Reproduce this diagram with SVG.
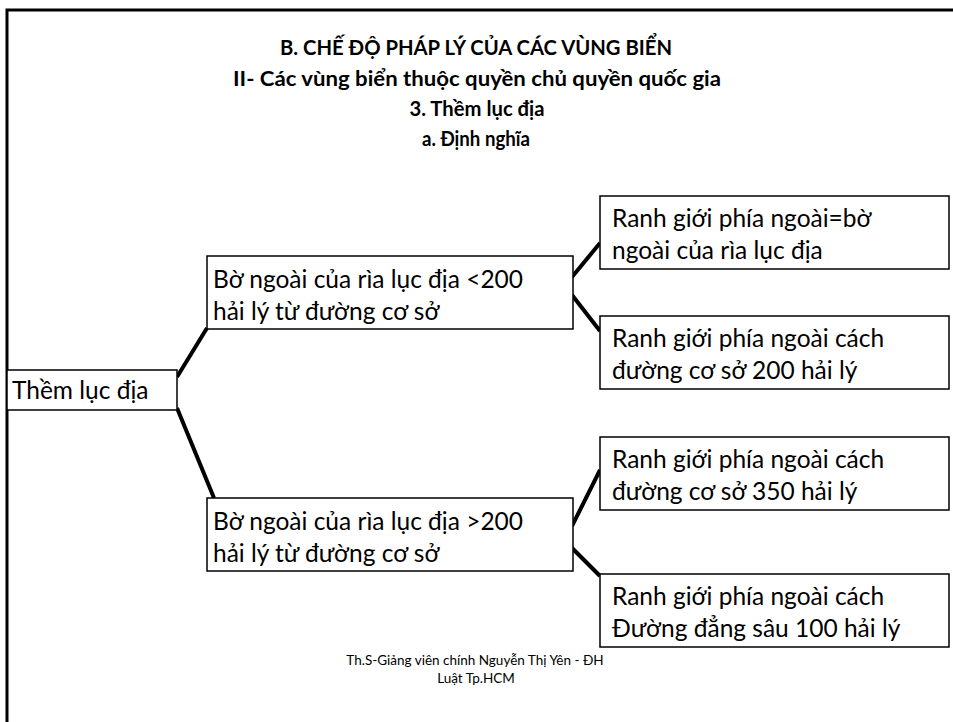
<svg xmlns="http://www.w3.org/2000/svg" width="953" height="722" viewBox="0 0 953 722">
  <style>
    .frame { fill: none; stroke: #000; stroke-width: 3; }
    .box { fill: #fff; stroke: #000; stroke-width: 1.5; }
    .link { stroke: #000; stroke-width: 4; stroke-linecap: butt; }
    .title { font-family: Lato, "Liberation Sans", sans-serif; font-weight: bold; font-size: 21.5px; text-anchor: middle; fill: #000; }
    .label { font-family: Lato, "Liberation Sans", sans-serif; font-size: 24.5px; fill: #000; }
    .foot { font-family: Lato, "Liberation Sans", sans-serif; font-size: 13.5px; text-anchor: middle; fill: #000; }
  </style>

  <rect width="953" height="722" fill="#fff"/>
  <path class="frame" d="M7 722 V10 H953"/>

  <!-- heading, condensed to the measured line widths -->
  <g id="heading">
    <text class="title" x="476" y="55" textLength="392" lengthAdjust="spacingAndGlyphs">B. CHẾ ĐỘ PHÁP LÝ CỦA CÁC VÙNG BIỂN</text>
    <text class="title" x="477" y="86" textLength="488" lengthAdjust="spacingAndGlyphs">II- Các vùng biển thuộc quyền chủ quyền quốc gia</text>
    <text class="title" x="477" y="116" textLength="135" lengthAdjust="spacingAndGlyphs">3. Thềm lục địa</text>
    <text class="title" x="476" y="146" textLength="108" lengthAdjust="spacingAndGlyphs">a. Định nghĩa</text>
  </g>

  <!-- connectors -->
  <g id="connectors">
    <line class="link" x1="177" y1="377" x2="207" y2="328"/>
    <line class="link" x1="177" y1="408" x2="214" y2="498"/>
    <line class="link" x1="572" y1="277" x2="600" y2="243"/>
    <line class="link" x1="572" y1="295" x2="600" y2="331"/>
    <line class="link" x1="572" y1="526" x2="600" y2="470"/>
    <line class="link" x1="572" y1="548" x2="600" y2="576"/>
  </g>

  <g id="root">
    <rect class="box" x="7" y="370" width="170" height="40"/>
    <text class="label" x="12" y="399">Thềm lục địa</text>
  </g>

  <g id="under200">
    <rect class="box" x="207" y="256" width="366" height="73"/>
    <text class="label" x="213" y="288">Bờ ngoài của rìa lục địa &lt;200</text>
    <text class="label" x="213" y="320">hải lý từ đường cơ sở</text>
  </g>

  <g id="outer-edge">
    <rect class="box" x="600" y="196" width="349" height="73"/>
    <text class="label" x="612" y="227">Ranh giới phía ngoài=bờ</text>
    <text class="label" x="612" y="259">ngoài của rìa lục địa</text>
  </g>

  <g id="limit200">
    <rect class="box" x="600" y="316" width="349" height="73"/>
    <text class="label" x="612" y="347">Ranh giới phía ngoài cách</text>
    <text class="label" x="612" y="379">đường cơ sở 200 hải lý</text>
  </g>

  <g id="over200">
    <rect class="box" x="207" y="498" width="366" height="73"/>
    <text class="label" x="213" y="530">Bờ ngoài của rìa lục địa &gt;200</text>
    <text class="label" x="213" y="562">hải lý từ đường cơ sở</text>
  </g>

  <g id="limit350">
    <rect class="box" x="600" y="437" width="349" height="73"/>
    <text class="label" x="612" y="468">Ranh giới phía ngoài cách</text>
    <text class="label" x="612" y="500">đường cơ sở 350 hải lý</text>
  </g>

  <g id="isobath">
    <rect class="box" x="600" y="574" width="349" height="73"/>
    <text class="label" x="612" y="605">Ranh giới phía ngoài cách</text>
    <text class="label" x="612" y="637">Đường đẳng sâu 100 hải lý</text>
  </g>

  <g id="footer">
    <text class="foot" x="475" y="665">Th.S-Giảng viên chính Nguyễn Thị Yên - ĐH</text>
    <text class="foot" x="476" y="683">Luật Tp.HCM</text>
  </g>
</svg>
